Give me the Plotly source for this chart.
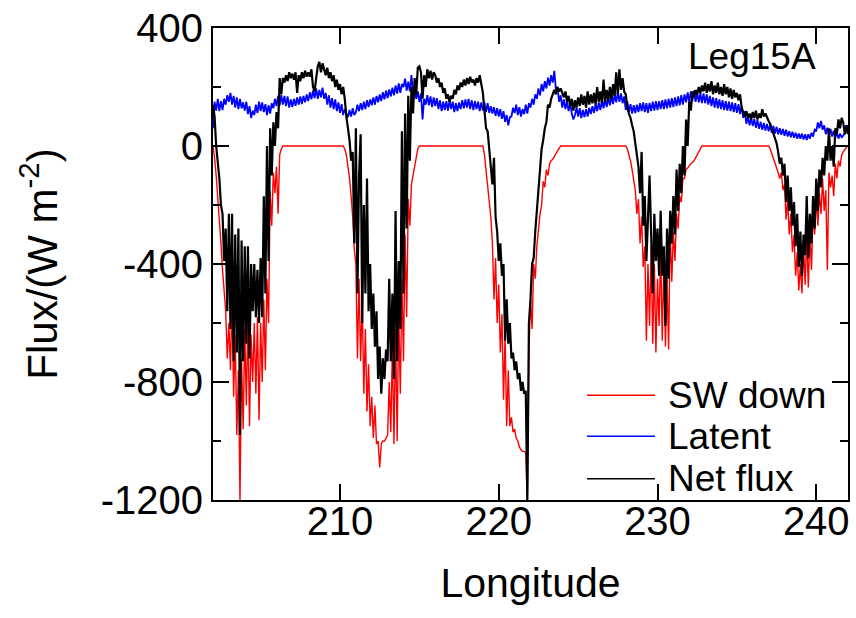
import plotly.graph_objects as go

# Longitude sampling grid (degrees)
LON_START = 202.0
LON_STEP = 0.1
N_POINTS = 401

# SW down (W m-2), one row per degree of longitude
sw_down = [
    0, -40, -100, -170, -250, -330, -420, -480, -560, -720,            # 202
    -600, -760, -520, -850, -640, -980, -760, -1200, -720, -960,       # 203
    -620, -880, -580, -950, -640, -800, -600, -840, -580, -930,        # 204
    -600, -800, -520, -760, -450, -600, -150, -270, -90, -160,         # 205
    -70, -230, -30, -10, 0, 0, 0, 0, 0, 0,                             # 206
    0, 0, 0, 0, 0, 0, 0, 0, 0, 0,                                      # 207
    0, 0, 0, 0, 0, 0, 0, 0, 0, 0,                                      # 208
    0, 0, 0, 0, 0, 0, 0, 0, 0, 0,                                      # 209
    0, 0, 0, -10, -30, -70, -110, -170, -240, -350,                    # 210
    -400, -720, -450, -730, -520, -840, -620, -900, -740, -950,        # 211
    -850, -990, -880, -1010, -1000, -1090, -1010, -1000, -1000, -990,  # 212
    -980, -800, -970, -680, -1010, -620, -1000, -560, -840, -450,      # 213
    -730, -300, -580, -180, -270, -130, -100, -60, -30, -10,           # 214
    0, 0, 0, 0, 0, 0, 0, 0, 0, 0,                                      # 215
    0, 0, 0, 0, 0, 0, 0, 0, 0, 0,                                      # 216
    0, 0, 0, 0, 0, 0, 0, 0, 0, 0,                                      # 217
    0, 0, 0, 0, 0, 0, 0, 0, 0, 0,                                      # 218
    0, -30, -80, -120, -170, -240, -330, -520, -380, -600,             # 219
    -470, -700, -570, -860, -640, -950, -760, -950, -920, -970,        # 220
    -960, -990, -1000, -1020, -1030, -1035, -1035, -1040, -1200, -700, # 221
    -520, -620, -400, -450, -340, -280, -230, -200, -120, -140,        # 222
    -80, -100, -60, -50, -45, -35, -25, -15, -5, 0,                    # 223
    0, 0, 0, 0, 0, 0, 0, 0, 0, 0,                                      # 224
    0, 0, 0, 0, 0, 0, 0, 0, 0, 0,                                      # 225
    0, 0, 0, 0, 0, 0, 0, 0, 0, 0,                                      # 226
    0, 0, 0, 0, 0, 0, 0, 0, 0, 0,                                      # 227
    0, -10, -30, -50, -80, -110, -150, -230, -180, -330,               # 228
    -240, -410, -340, -660, -400, -610, -340, -670, -400, -700,        # 229
    -450, -610, -340, -660, -400, -680, -450, -690, -280, -460,        # 230
    -290, -390, -230, -280, -170, -190, -110, -110, -80, -75,          # 231
    -65, -60, -55, -50, -40, -30, -20, -10, 0, 0,                      # 232
    0, 0, 0, 0, 0, 0, 0, 0, 0, 0,                                      # 233
    0, 0, 0, 0, 0, 0, 0, 0, 0, 0,                                      # 234
    0, 0, 0, 0, 0, 0, 0, 0, 0, 0,                                      # 235
    0, 0, 0, 0, 0, 0, 0, 0, 0, 0,                                      # 236
    0, -10, -25, -40, -55, -70, -90, -110, -90, -150,                  # 237
    -130, -250, -180, -300, -230, -360, -300, -440, -360, -490,        # 238
    -400, -500, -340, -470, -300, -480, -290, -420, -230, -300,        # 239
    -170, -270, -160, -230, -110, -220, -150, -420, -90, -140,         # 240
    -100, -170, -60, -110, -50, -70, -30, -20, -10, -5,                # 241
    0,                                                                 # 242
]

# Latent heat flux (W m-2)
latent = [
    60, 150, 120, 160, 118, 152, 122, 160, 140, 172,      # 202
    150, 180, 140, 170, 130, 165, 125, 160, 128, 148,     # 203
    120, 150, 108, 135, 95, 120, 105, 140, 112, 150,      # 204
    118, 148, 115, 142, 105, 138, 110, 145, 128, 160,     # 205
    135, 170, 138, 172, 140, 170, 135, 168, 130, 158,     # 206
    132, 160, 136, 165, 140, 168, 142, 170, 148, 175,     # 207
    152, 182, 158, 188, 162, 195, 160, 190, 165, 198,     # 208
    160, 180, 140, 172, 130, 162, 125, 158, 118, 148,     # 209
    112, 142, 105, 125, 110, 98, 122, 100, 128, 105,      # 210
    115, 140, 118, 145, 122, 150, 125, 155, 132, 158,     # 211
    138, 165, 140, 170, 148, 175, 152, 182, 158, 188,     # 212
    162, 192, 168, 198, 172, 205, 178, 212, 180, 210,     # 213
    200, 228, 188, 218, 185, 240, 180, 200, 160, 185,     # 214
    150, 178, 90, 160, 140, 172, 138, 168, 132, 165,      # 215
    135, 162, 125, 155, 118, 150, 122, 152, 120, 155,     # 216
    125, 150, 115, 145, 118, 148, 125, 155, 128, 158,     # 217
    130, 160, 125, 155, 122, 152, 125, 150, 118, 148,     # 218
    120, 148, 115, 145, 112, 135, 110, 132, 102, 128,     # 219
    100, 125, 92, 118, 82, 105, 70, 98, 100, 130,         # 220
    112, 140, 105, 132, 100, 125, 108, 140, 110, 145,     # 221
    130, 160, 140, 175, 160, 195, 172, 210, 185, 220,     # 222
    195, 232, 205, 240, 215, 255, 190, 200, 150, 172,     # 223
    130, 158, 125, 152, 118, 145, 110, 90, 105, 130,      # 224
    100, 128, 95, 122, 98, 125, 100, 130, 108, 135,       # 225
    112, 142, 118, 148, 122, 155, 128, 160, 132, 165,     # 226
    138, 170, 142, 175, 148, 182, 150, 178, 145, 168,     # 227
    122, 150, 115, 142, 110, 138, 112, 140, 115, 145,     # 228
    118, 148, 115, 145, 112, 146, 118, 150, 120, 152,     # 229
    122, 152, 125, 155, 125, 158, 128, 160, 130, 162,     # 230
    132, 165, 135, 168, 138, 172, 140, 175, 148, 182,     # 231
    150, 185, 152, 188, 150, 182, 148, 180, 145, 178,     # 232
    145, 175, 140, 170, 135, 165, 130, 162, 128, 158,     # 233
    125, 155, 122, 152, 120, 150, 118, 148, 115, 145,     # 234
    112, 142, 108, 135, 95, 118, 75, 100, 70, 95,         # 235
    68, 92, 62, 88, 58, 82, 55, 78, 52, 75,               # 236
    50, 72, 45, 68, 42, 65, 40, 60, 38, 58,               # 237
    35, 55, 32, 50, 30, 48, 28, 45, 25, 42,               # 238
    25, 42, 22, 40, 20, 40, 25, 45, 32, 55,               # 239
    50, 80, 60, 85, 55, 70, 40, 62, 38, 58,               # 240
    32, 52, 28, 45, 25, 42, 30, 35, 45, 70,               # 241
    65,                                                   # 242
]

# Net flux (W m-2)
net_flux = [
    140, 100, 0, -60, -110, -200, -230, -390, -280, -560,          # 202
    -230, -620, -230, -730, -300, -700, -280, -980, -320, -730,    # 203
    -340, -670, -340, -720, -400, -560, -400, -580, -420, -600,    # 204
    -380, -580, -170, -500, 0, -390, 60, -100, 80, 0,              # 205
    115, 60, 230, 175, 230, 215, 240, 220, 250, 230,               # 206
    245, 225, 250, 180, 240, 220, 250, 230, 255, 235,              # 207
    250, 235, 260, 200, 185, 230, 270, 285, 250, 280,              # 208
    260, 240, 265, 230, 250, 220, 240, 200, 225, 190,              # 209
    210, 175, 200, 160, 100, 60, 20, -50, -20, -330,               # 210
    60, -500, -100, 40, -600, -200, -500, -110, -560, -400,        # 211
    -620, -500, -680, -560, -790, -680, -840, -720, -790, -690,    # 212
    -730, -450, -730, -500, -790, -220, -730, -390, -620, 50,      # 213
    -500, 110, -280, 170, -50, 200, 110, 230, 175, 265,            # 214
    270, 250, 160, 240, 200, 260, 230, 255, 225, 250,              # 215
    240, 215, 230, 200, 215, 180, 195, 160, 175, 150,              # 216
    170, 160, 190, 175, 205, 190, 215, 200, 225, 205,              # 217
    230, 210, 235, 215, 225, 205, 230, 215, 240, 210,              # 218
    180, 120, 60, 50, -20, -70, -130, -40, -240, -290,             # 219
    -390, -330, -440, -400, -660, -520, -670, -600, -720, -700,    # 220
    -760, -730, -790, -770, -830, -800, -840, -830, -1200, -600,   # 221
    -520, -400, -380, -290, -220, -150, -80, -10, 20, 60,          # 222
    80, 140, 130, 160, 175, 190, 175, 200, 185, 195,               # 223
    180, 165, 185, 150, 170, 135, 160, 120, 155, 130,              # 224
    165, 135, 175, 140, 170, 130, 185, 140, 175, 145,              # 225
    180, 140, 200, 150, 185, 145, 225, 150, 190, 155,              # 226
    200, 160, 210, 170, 250, 175, 260, 190, 230, 185,              # 227
    175, 130, 110, 95, 70, 50, 10, -40, -70, -160,                 # 228
    -20, -270, -170, -390, -220, -100, -300, -500, -230, -390,     # 229
    -280, -440, -220, -440, -340, -610, -280, -450, -220, -330,    # 230
    -170, -300, -80, -220, -60, -160, 0, -100, 90, 0,              # 231
    150, 120, 185, 165, 190, 175, 200, 180, 205, 185,              # 232
    215, 180, 210, 185, 220, 175, 205, 180, 215, 175,              # 233
    200, 170, 210, 175, 200, 165, 195, 160, 190, 165,              # 234
    180, 155, 175, 130, 115, 100, 118, 95, 110, 90,                # 235
    115, 95, 120, 90, 110, 95, 125, 100, 110, 95,                  # 236
    85, 75, 60, 45, 25, 10, -20, -60, -40, -100,                   # 237
    -60, -190, -100, -220, -140, -270, -190, -340, -230, -410,     # 238
    -290, -440, -300, -370, -170, -380, -230, -330, -170, -280,    # 239
    -110, -220, -80, -140, -40, -100, 0, -50, 60, -50,             # 240
    0, -70, 60, 40, 90, 60, 95, 80, 40, 70,                        # 241
    40,                                                            # 242
]

series_names = ["SW down", "Latent", "Net flux"]
series_colors = ["#FF0000", "#0000FF", "#000000"]
series_widths = [1.4, 1.8, 2.2]

x_tick_vals = [210, 220, 230, 240]
y_tick_vals = [400, 0, -400, -800, -1200]
y_tick_text = ["400", "0", "-400", "-800", "-1200"]
y_minor_vals = [200, -200, -600, -1000]

longitude = [round(LON_START + LON_STEP * i, 1) for i in range(N_POINTS)]
assert len(sw_down) == len(latent) == len(net_flux) == N_POINTS

FONT = "Liberation Sans, Arial, sans-serif"

fig = go.Figure()
for name, vals, col, w in zip(series_names, [sw_down, latent, net_flux],
                              series_colors, series_widths):
    fig.add_trace(go.Scatter(x=longitude, y=vals, mode="lines", name=name,
                             line=dict(color=col, width=w), showlegend=False))

# Legend drawn in the lower right corner of the plot area (paper coordinates)
legend_y = [0.222, 0.135, 0.045]
shapes = []
annotations = []
for name, col, yy in zip(series_names, series_colors, legend_y):
    shapes.append(dict(type="line", xref="paper", yref="paper",
                       x0=0.589, x1=0.696, y0=yy, y1=yy,
                       line=dict(color=col, width=1.5)))
    annotations.append(dict(text=name, x=0.714, y=yy, xref="paper", yref="paper",
                            xanchor="left", yanchor="middle", showarrow=False,
                            font=dict(size=37, color="black", family=FONT)))
annotations.append(dict(text="Leg15A", x=0.952, y=0.94, xref="paper", yref="paper",
                        xanchor="right", yanchor="middle", showarrow=False,
                        font=dict(size=37, color="black", family=FONT)))

fig.update_layout(
    width=856, height=618,
    margin=dict(l=213, r=8, t=28, b=118),
    plot_bgcolor="white", paper_bgcolor="white",
    font=dict(family=FONT, color="black"),
    showlegend=False,
    hovermode=False,
    shapes=shapes,
    annotations=annotations,
)

fig.update_xaxes(
    range=[202, 242], tickvals=x_tick_vals, automargin=False,
    showline=True, linecolor="black", linewidth=2, mirror="ticks",
    ticks="inside", ticklen=16, tickwidth=2, tickcolor="black",
    ticklabelstandoff=-15, ticklabeloverflow="allow",
    tickfont=dict(size=40, family=FONT), showgrid=False, zeroline=False,
    title=dict(text="Longitude", font=dict(size=41, family=FONT), standoff=26),
)
fig.update_yaxes(
    range=[-1200, 400], tickvals=y_tick_vals, ticktext=y_tick_text,
    automargin=False, ticklabeloverflow="allow",
    showline=True, linecolor="black", linewidth=2, mirror="ticks",
    ticks="inside", ticklen=16, tickwidth=2, tickcolor="black",
    minor=dict(tickvals=y_minor_vals, ticks="inside", ticklen=8,
               tickwidth=1.5, tickcolor="black"),
    tickfont=dict(size=40, family=FONT), showgrid=False, zeroline=False,
    title=dict(text="Flux/(W m<sup>-2</sup>)", font=dict(size=42, family=FONT),
               standoff=30),
)

# Remove the page's default body margin so the 856x618 figure fills the window.
fig.write_html("out.html", config=dict(displayModeBar=False),
               post_script="document.body.style.margin='0';")
